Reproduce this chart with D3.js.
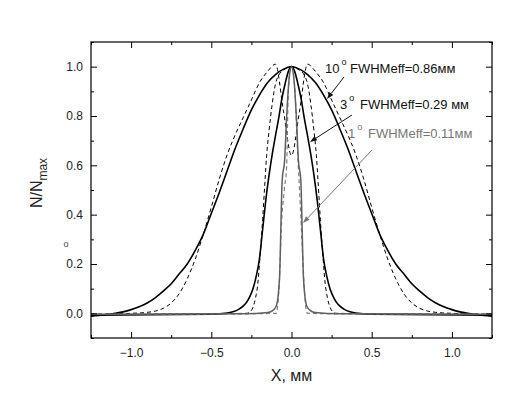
<!DOCTYPE html>
<html><head><meta charset="utf-8">
<script src="https://cdn.jsdelivr.net/npm/d3@7"></script>
<style>body{margin:0;background:#fff}svg{display:block}text{font-family:Arial,"Liberation Sans",sans-serif}</style>
</head><body>
<svg id="c" width="510" height="395"></svg>
<script>
// ---- data ----
const xTicks = [-1.0, -0.5, 0.0, 0.5, 1.0];
const yTicks = [0.0, 0.2, 0.4, 0.6, 0.8, 1.0];
const xLabel = "X, мм";

// 10° measured (solid)
const s10x = [-1.25,-1.2,-1.15,-1.1,-1.05,-1.0,-0.95,-0.9,-0.85,-0.8,-0.75,-0.7,-0.65,-0.6,-0.55,-0.5,-0.45,-0.4,-0.35,-0.3,-0.25,-0.2,-0.15,-0.1,-0.05,0,
               0.05,0.1,0.15,0.2,0.25,0.3,0.35,0.4,0.45,0.5,0.55,0.6,0.65,0.7,0.75,0.8,0.85,0.9,0.95,1.0,1.05,1.1,1.15,1.2,1.25];
const s10y = [-0.012,-0.009,-0.005,0.0,0.006,0.015,0.027,0.042,0.063,0.09,0.12,0.16,0.2,0.255,0.32,0.405,0.49,0.58,0.67,0.75,0.825,0.885,0.935,0.968,0.99,1.0,
               0.99,0.968,0.935,0.885,0.825,0.75,0.67,0.58,0.49,0.405,0.32,0.255,0.2,0.16,0.12,0.09,0.063,0.042,0.027,0.015,0.006,0.0,-0.005,-0.009,-0.012];

// 10° calculated (dashed)
const d10x = [-1.25,-1.0,-0.9,-0.85,-0.8,-0.75,-0.7,-0.65,-0.6,-0.55,-0.5,-0.45,-0.4,-0.35,-0.3,-0.25,-0.2,-0.15,-0.1,-0.05,0,
               0.05,0.1,0.15,0.2,0.25,0.3,0.35,0.4,0.45,0.5,0.55,0.6,0.65,0.7,0.75,0.8,0.85,0.9,1.0,1.25];
const d10y = [-0.004,0.0,0.004,0.009,0.02,0.042,0.08,0.14,0.22,0.32,0.43,0.545,0.645,0.725,0.795,0.865,0.935,0.98,1.01,0.82,0.64,
               0.82,1.01,0.98,0.935,0.865,0.795,0.725,0.645,0.545,0.43,0.32,0.22,0.14,0.08,0.042,0.02,0.009,0.004,0.0,-0.004];

// 3° measured (solid)
const s3x = [-1.25,-0.5,-0.4,-0.36,-0.33,-0.3,-0.28,-0.26,-0.24,-0.22,-0.2,-0.18,-0.16,-0.14,-0.12,-0.1,-0.08,-0.06,-0.04,-0.02,0,
              0.02,0.04,0.06,0.08,0.1,0.12,0.14,0.16,0.18,0.2,0.22,0.24,0.26,0.28,0.3,0.33,0.36,0.4,0.5,1.25];
const s3y = [-0.008,-0.004,0.001,0.007,0.016,0.03,0.045,0.068,0.1,0.15,0.22,0.34,0.46,0.56,0.645,0.72,0.79,0.87,0.93,0.98,1.0,
              0.98,0.93,0.87,0.79,0.72,0.645,0.56,0.46,0.34,0.22,0.15,0.1,0.068,0.045,0.03,0.016,0.007,0.001,-0.004,-0.008];

// 3° calculated (dashed)
const d3x = [-1.25,-0.28,-0.26,-0.24,-0.225,-0.21,-0.195,-0.18,-0.165,-0.155,-0.14,-0.12,-0.1,-0.08,-0.04,0,
              0.04,0.08,0.1,0.12,0.14,0.155,0.165,0.18,0.195,0.21,0.225,0.24,0.26,0.28,1.25];
const d3y = [-0.004,0.0,0.005,0.025,0.06,0.12,0.24,0.38,0.54,0.64,0.74,0.85,0.93,0.965,0.99,1.0,
              0.99,0.965,0.93,0.85,0.74,0.64,0.54,0.38,0.24,0.12,0.06,0.025,0.005,0.0,-0.004];

// 1° measured (solid)
const s1x = [-1.25,-0.3,-0.147,-0.12,-0.095,-0.075,-0.058,-0.043,-0.03,-0.015,0,0.015,0.03,0.043,0.058,0.075,0.095,0.12,0.147,0.3,1.25];
const s1y = [-0.004,-0.002,0.003,0.01,0.03,0.138,0.54,0.62,0.8,0.95,1.0,0.95,0.8,0.62,0.54,0.138,0.03,0.01,0.003,-0.002,-0.004];

// 1° calculated (dashed)
const d1x = [-1.25,-0.3,-0.095,-0.085,-0.075,-0.064,-0.045,-0.03,-0.022,-0.012,0,0.012,0.022,0.035,0.05,0.065,0.08,0.09,0.1,0.3,1.25];
const d1y = [-0.004,-0.002,0.0,0.04,0.138,0.34,0.5,0.6,0.85,0.97,1.0,0.97,0.9,0.7,0.5,0.3,0.1,0.02,0.0,-0.002,-0.004];

const annLabels = ["10", "3", "1"];
const annTexts = ["FWHMeff=0.86мм", "FWHMeff=0.29 мм", "FWHMeff=0.11мм"];

// ---- layout ----
const svg = d3.select("#c");
const L = 91, R = 492, T = 42, B = 338;
const x = d3.scaleLinear().domain([-1.25, 1.25]).range([L, R]);
const y = d3.scaleLinear().domain([-0.1, 1.1]).range([B, T]);

svg.append("defs").append("clipPath").attr("id","clip")
  .append("rect").attr("x",L).attr("y",T).attr("width",R-L).attr("height",B-T);

const line = d3.line().x(d=>x(d[0])).y(d=>y(d[1])).curve(d3.curveMonotoneX);
const zip = (a,b)=>a.map((v,i)=>[v,b[i]]);

const g = svg.append("g").attr("clip-path","url(#clip)");
const series = [
  {d: zip(d10x,d10y), c:"#000", w:1.0, dash:"4,3"},
  {d: zip(s10x,s10y), c:"#000", w:1.6, dash:null},
  {d: zip(d3x,d3y), c:"#000", w:1.0, dash:"4,3"},
  {d: zip(s3x,s3y), c:"#000", w:1.6, dash:null},
  {d: zip(d1x,d1y), c:"#808080", w:1.2, dash:"4,3"},
  {d: zip(s1x,s1y), c:"#606060", w:1.5, dash:null},
];
series.forEach(s=>{
  g.append("path").attr("d", line(s.d)).attr("fill","none")
   .attr("stroke", s.c).attr("stroke-width", s.w)
   .attr("stroke-dasharray", s.dash);
});

// ---- frame + ticks ----
svg.append("rect").attr("x",L).attr("y",T).attr("width",R-L).attr("height",B-T)
  .attr("fill","none").attr("stroke","#000").attr("stroke-width",1.2);

const xMinor = [-1.25,-0.75,-0.25,0.25,0.75,1.25];
const yMinor = [-0.1,0.1,0.3,0.5,0.7,0.9,1.1];

const axB = d3.axisBottom(x).tickValues(xTicks).tickSize(-6).tickPadding(10).tickFormat(d3.format(".1f"));
const axT = d3.axisTop(x).tickValues(xTicks).tickSize(-6).tickFormat("");
const axL = d3.axisLeft(y).tickValues(yTicks).tickSize(-6).tickPadding(8).tickFormat(d3.format(".1f"));
const axR = d3.axisRight(y).tickValues(yTicks).tickSize(-6).tickFormat("");
const mB = d3.axisBottom(x).tickValues(xMinor).tickSize(-3).tickFormat("");
const mT = d3.axisTop(x).tickValues(xMinor).tickSize(-3).tickFormat("");
const mL = d3.axisLeft(y).tickValues(yMinor).tickSize(-3).tickFormat("");
const mR = d3.axisRight(y).tickValues(yMinor).tickSize(-3).tickFormat("");

function put(ax, tr){
  const a = svg.append("g").attr("transform", tr).call(ax);
  a.select(".domain").remove();
  a.selectAll("line").attr("stroke","#000").attr("stroke-width",1);
  a.selectAll("text").attr("font-size",12).attr("fill","#222").attr("font-family","Arial, 'Liberation Sans', sans-serif");
  return a;
}
put(axB, `translate(0,${B})`);
put(axT, `translate(0,${T})`);
put(axL, `translate(${L},0)`);
put(axR, `translate(${R},0)`);
put(mB, `translate(0,${B})`);
put(mT, `translate(0,${T})`);
put(mL, `translate(${L},0)`);
put(mR, `translate(${R},0)`);

// ---- axis labels ----
svg.append("text").attr("x",(L+R)/2).attr("y",381).attr("text-anchor","middle")
  .attr("font-size",16).attr("fill","#222").text(xLabel);
const yl = svg.append("text").attr("transform","translate(42,183) rotate(-90)")
  .attr("text-anchor","middle").attr("font-size",16).attr("fill","#222");
yl.append("tspan").text("N/N");
yl.append("tspan").attr("font-size",12).attr("dy",5).text("max");
svg.append("text").attr("x",66).attr("y",247).attr("text-anchor","middle")
  .attr("font-size",9).attr("fill","#444").text("o");

// ---- annotations ----
const anns = [
  {lab:annLabels[0], txt:annTexts[0], lx:325, tx:350, by:73, col:"#111", from:[344,77], to:[327,99]},
  {lab:annLabels[1], txt:annTexts[1], lx:340, tx:360, by:109, col:"#111", from:[352,115], to:[310,142]},
  {lab:annLabels[2], txt:annTexts[2], lx:348, tx:368, by:138, col:"#777", from:[372,150], to:[303,223]},
];
anns.forEach(a=>{
  const t = svg.append("text").attr("y",a.by).attr("font-size",13).attr("fill",a.col);
  t.append("tspan").attr("x",a.lx).text(a.lab);
  t.append("tspan").attr("font-size",9).attr("dy",-8).attr("dx",2).text("o");
  svg.append("text").attr("x",a.tx).attr("y",a.by).attr("font-size",13).attr("fill",a.col).text(a.txt);
  const [x1,y1]=a.from, [x2,y2]=a.to;
  const ang = Math.atan2(y2-y1,x2-x1), hl=7, hw=2.5;
  const bx = x2 - hl*Math.cos(ang), by2 = y2 - hl*Math.sin(ang);
  svg.append("line").attr("x1",x1).attr("y1",y1).attr("x2",bx).attr("y2",by2)
    .attr("stroke",a.col).attr("stroke-width",1);
  const p1=[bx + hw*Math.sin(ang), by2 - hw*Math.cos(ang)];
  const p2=[bx - hw*Math.sin(ang), by2 + hw*Math.cos(ang)];
  svg.append("path").attr("d",`M${x2},${y2}L${p1}L${p2}Z`).attr("fill",a.col);
});
</script>
</body></html>
